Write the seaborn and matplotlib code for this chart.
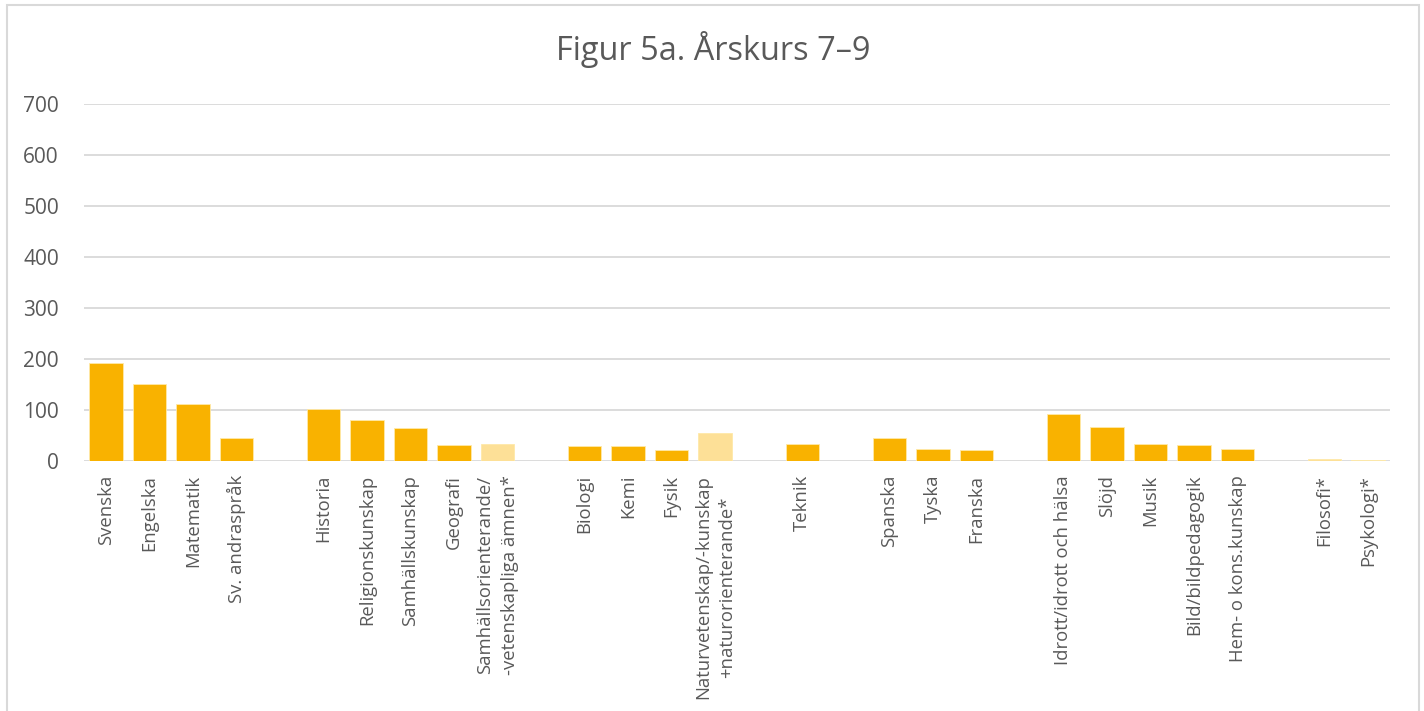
import numpy as np
import pandas as pd
import matplotlib.pyplot as plt
import seaborn as sns
from matplotlib.patches import Rectangle

# subjects in chart order, None = empty gap slot between groups
subjects = [
    "Svenska", "Engelska", "Matematik", "Sv. andraspråk", None,
    "Historia", "Religionskunskap", "Samhällskunskap", "Geografi",
    "Samhällsorienterande/\n-vetenskapliga ämnen*", None,
    "Biologi", "Kemi", "Fysik", "Naturvetenskap/-kunskap\n+naturorienterande*", None,
    "Teknik", None,
    "Spanska", "Tyska", "Franska", None,
    "Idrott/idrott och hälsa", "Slöjd", "Musik", "Bild/bildpedagogik", "Hem- o kons.kunskap", None,
    "Filosofi*", "Psykologi*",
]
counts = [
    192, 151, 112, 45, np.nan,
    102, 80, 65, 31, 33, np.nan,
    29, 29, 21, 55, np.nan,
    33, np.nan,
    46, 23, 21, np.nan,
    93, 66, 33, 32, 23, np.nan,
    4, 2,
]
# starred subjects are drawn in the pale colour
starred = [s is not None and s.endswith("*") for s in subjects]

DARK = "#F9B200"
LIGHT = "#FDE097"
TXT = "#595959"

slots = [f"s{i}" for i in range(len(subjects))]
df = pd.DataFrame({"slot": slots, "n": counts,
                   "kind": ["light" if st else "dark" for st in starred]})
df = df.dropna()

plt.rcParams['font.family'] = ['Open Sans', 'DejaVu Sans']
fig = plt.figure(figsize=(14.24, 7.11), dpi=100)
ax = fig.add_axes([84 / 1424, 1 - 461 / 711, (1390 - 84) / 1424, (461 - 104) / 711])

sns.barplot(data=df, x="slot", y="n", hue="kind", order=slots,
            palette={"dark": DARK, "light": LIGHT}, dodge=False, saturation=1,
            width=0.77, edgecolor="#FFE9A8", linewidth=0.6, legend=False, ax=ax)

ax.set_ylim(0, 700)
ax.set_yticks(range(0, 701, 100))
ax.yaxis.grid(True, color="#D9D9D9", linewidth=1.3)
ax.set_axisbelow(True)
for sp in ax.spines.values():
    sp.set_visible(False)
ax.tick_params(axis="both", length=0, colors=TXT)
ax.tick_params(axis="y", pad=18, labelsize=15)
ax.set_xticks(range(len(slots)))
ax.set_xticklabels([s if s else "" for s in subjects], rotation=90,
                   ha="center", va="top", multialignment="center", linespacing=1.45)
ax.tick_params(axis="x", pad=10, labelsize=13.3)
ax.set_xlabel("")
ax.set_ylabel("")
ax.set_xlim(-0.5, len(slots) - 0.5)

fig.text(713 / 1424, 1 - 50 / 711, "Figur 5a. Årskurs 7–9", ha="center", va="center",
         fontsize=23.4, color=TXT)

# chart frame
fig.patches.append(Rectangle((7 / 1424, -0.05), (1419 - 7) / 1424, 1.05 - 5 / 711,
                             transform=fig.transFigure, fill=False,
                             edgecolor="#D9D9D9", linewidth=1.5))

fig.savefig("out.png", dpi=100)
